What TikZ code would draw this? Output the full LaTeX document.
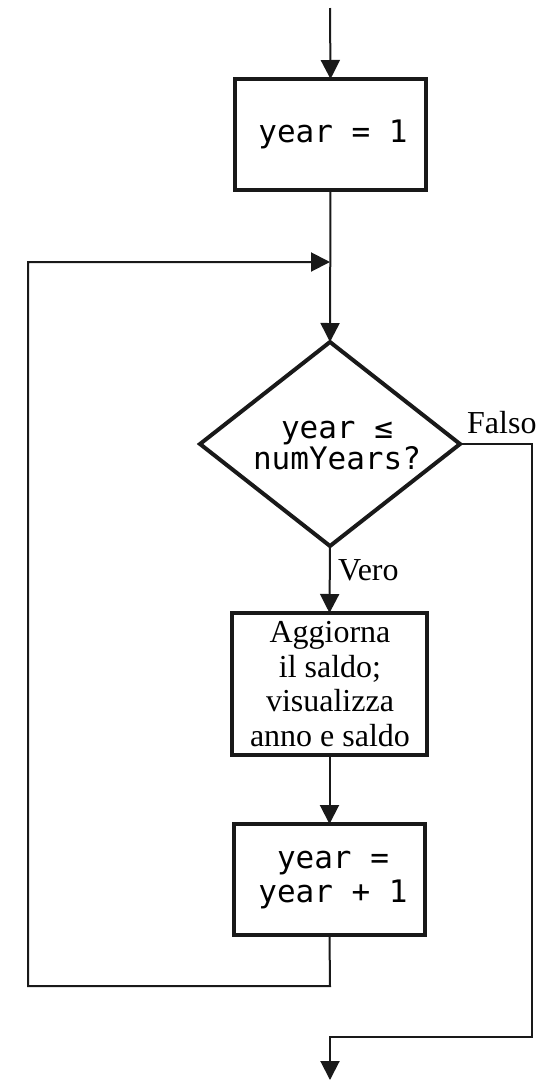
\documentclass[tikz,border=0pt]{standalone}
\usepackage{fontspec}
\setmainfont{Liberation Serif}
\setmonofont{DejaVu Sans Mono}
\usetikzlibrary{shapes.geometric,arrows.meta}
\begin{document}
\begin{tikzpicture}[x=1pt,y=-1pt,
  conn/.style={line width=2pt,draw=black!90},
  arr/.style={conn,-{Triangle[length=19pt,width=19pt]}},
  procbox/.style={draw=black!90,line width=4pt,rectangle,inner sep=0pt,outer sep=0pt},
  decbox/.style={draw=black!90,line width=4pt,diamond,inner sep=0pt,outer sep=0pt},
  codetxt/.style={font=\fontsize{31}{34}\selectfont\ttfamily,align=center,inner sep=0pt},
  serif/.style={font=\fontsize{32}{34.5}\selectfont\rmfamily,inner sep=0pt},
]
\useasboundingbox (0,0) rectangle (552,1080);
% nodes
\coordinate (start) at (330,8);
\node[procbox,minimum width=191pt,minimum height=111pt] (init) at (330.5,134.5) {};
\node[codetxt] (inittxt) at (333,134) {year = 1};
\coordinate (merge) at (330,262);
\node[decbox,minimum width=260pt,minimum height=204pt] (cond) at (330,444) {};
\node[codetxt,font=\fontsize{31}{31}\selectfont\ttfamily] (condtxt) at (337,446) {year ≤\\numYears?};
\node[procbox,minimum width=195pt,minimum height=142pt] (upd) at (329.5,684) {};
\node[serif,align=center] (updtxt) at (330,684) {Aggiorna\\il saldo;\\visualizza\\anno e saldo};
\node[procbox,minimum width=191pt,minimum height=111pt] (inc) at (329.5,879.5) {};
\node[codetxt] (inctxt) at (333,880) {year =\\year + 1};
\coordinate (loopB) at (330,986);
\coordinate (loopL) at (28,986);
\coordinate (loopT) at (28,262);
\coordinate (falseR) at (532,444);
\coordinate (falseB) at (532,1037);
\coordinate (exitT) at (330,1037);
\coordinate (stop) at (330,1080);
\node[serif,anchor=base west] (falso) at (467,433) {Falso};
\node[serif,anchor=base west] (vero) at (338,580) {Vero};
% connectors
\draw[arr] (start) -- (init.north);
\draw[arr] (init.south) -- (cond.north);
\draw[arr] (cond.south) -- (upd.north);
\draw[arr] (upd.south) -- (inc.north);
\draw[arr] (inc.south) -- (loopB) -- (loopL) -- (loopT) -- (merge);
\draw[arr] (cond.east) -- (falseR) -- (falseB) -- (exitT) -- (stop);
\end{tikzpicture}
\end{document}
